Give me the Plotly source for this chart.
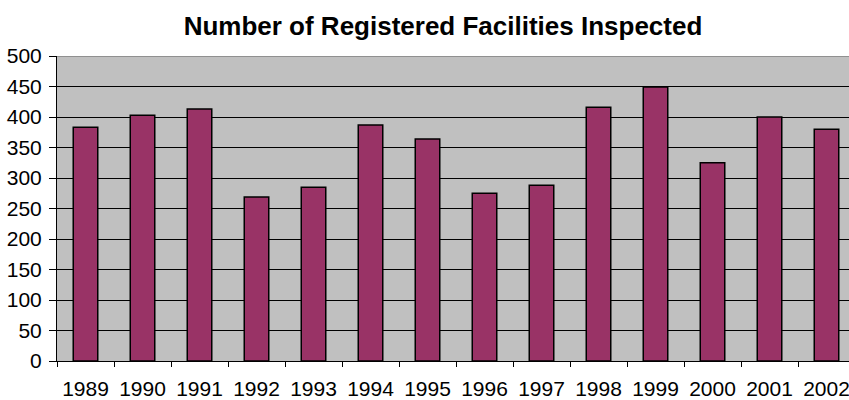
import plotly.graph_objects as go

years = ["1989", "1990", "1991", "1992", "1993", "1994", "1995",
         "1996", "1997", "1998", "1999", "2000", "2001", "2002"]
inspected = [383, 403, 413, 269, 285, 387, 364, 275, 288, 416, 449, 325, 400, 380]
y_ticks = [0, 50, 100, 150, 200, 250, 300, 350, 400, 450, 500]

FONT = "Liberation Sans, Arial, sans-serif"

fig = go.Figure()
fig.add_trace(go.Bar(
    x=years, y=inspected,
    marker=dict(color="#993366", line=dict(color="#000000", width=1.5)),
    hoverinfo="x+y",
))

# figure is slightly wider than the window so the plot area runs past the right edge,
# as in the reference (the last label is clipped)
fig.update_layout(
    width=856, height=400,
    margin=dict(l=57, r=1, t=56, b=39, autoexpand=False),
    paper_bgcolor="#ffffff",
    plot_bgcolor="#c0c0c0",
    bargap=0.57,
    showlegend=False,
    font=dict(family=FONT, size=21, color="#000000"),
    title=dict(
        text="<b>Number of Registered Facilities Inspected</b>",
        x=443 / 856, xanchor="center", xref="container",
        y=1 - 26 / 400, yanchor="middle", yref="container",
        font=dict(family=FONT, size=26, color="#000000"),
        automargin=False,
    ),
    xaxis=dict(
        type="category",
        tickson="boundaries",
        ticks="outside", ticklen=5, tickcolor="#000000", tickwidth=1,
        showline=True, linecolor="#000000", linewidth=1,
        showgrid=False,
        ticklabelstandoff=9,
        tickfont=dict(size=21),
        automargin=False,
    ),
    yaxis=dict(
        range=[0, 500],
        tickvals=y_ticks,
        ticks="outside", ticklen=7, tickcolor="#000000", tickwidth=1,
        showline=True, linecolor="#000000", linewidth=1,
        showgrid=True, gridcolor="#000000", gridwidth=1,
        zeroline=False,
        ticklabelstandoff=3,
        tickfont=dict(size=21),
        automargin=False,
    ),
)

fig.add_shape(type="line", xref="paper", yref="y", x0=0, x1=1, y0=500, y1=500,
              line=dict(color="#808080", width=1.5))

fig.write_html(
    "out.html",
    config={"displayModeBar": False},
    post_script="document.body.style.margin='0';document.body.style.overflow='hidden';",
)
